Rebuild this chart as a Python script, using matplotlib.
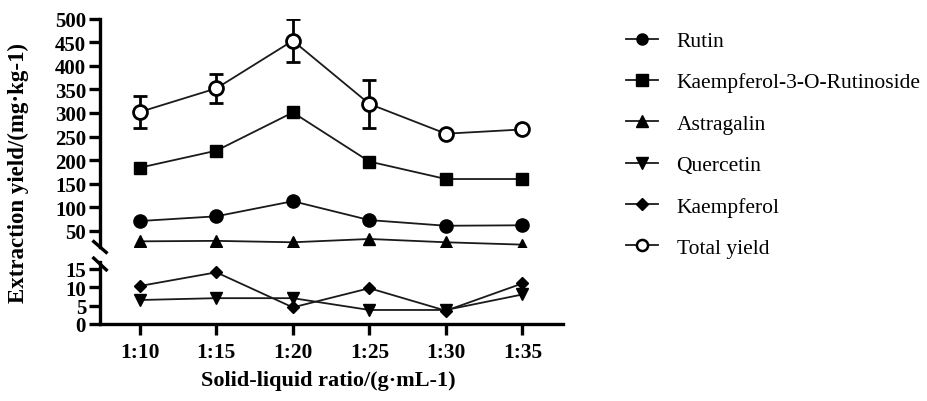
import matplotlib
matplotlib.use("Agg")
import matplotlib.pyplot as plt
from matplotlib.lines import Line2D

plt.rcParams['font.family'] = ['Liberation Serif', 'DejaVu Serif']

ratios = ['1:10', '1:15', '1:20', '1:25', '1:30', '1:35']
rutin = [71, 81, 113, 73, 61, 62]
k3or = [184, 220, 301, 197, 160, 160]
astragalin = [28, 29, 26, 33, 26, 21]
quercetin = [6.5, 7.0, 7.0, 3.8, 3.8, 8.0]
kaempferol = [10.3, 14.0, 4.5, 9.7, 3.6, 11.0]
total = [302, 352, 453, 319, 256, 265]
total_err = [34, 30, 45, 51, 0, 0]

x = list(range(len(ratios)))

W, H = 927, 402
fig = plt.figure(figsize=(W / 100, H / 100), dpi=100)

left, right = 100, 563
# pixel extents of the two y segments
up_top, up_bot = 19.5, 248
lo_top, lo_bot = 263, 325

ax_up = fig.add_axes([left / W, 1 - up_bot / H, (right - left) / W, (up_bot - up_top) / H])
ax_lo = fig.add_axes([left / W, 1 - lo_bot / H, (right - left) / W, (lo_bot - lo_top) / H])

lc = '#1a1a1a'
lw = 1.3
common = dict(color=lc, lw=lw, markeredgecolor='black', markerfacecolor='black')

ax_up.errorbar(x, total, yerr=total_err, fmt='-o', ms=10, mfc='white', mec='black', mew=2,
               color=lc, lw=lw, ecolor='black', elinewidth=2, capsize=5, capthick=2, zorder=3)
ax_up.plot(x, k3or, '-s', ms=9, **common)
ax_up.plot(x, rutin, '-o', ms=9.5, **common)
ax_up.plot(x, astragalin, '-^', ms=9, **common)

ax_lo.plot(x, quercetin, '-v', ms=9, **common)
ax_lo.plot(x, kaempferol, '-D', ms=6.5, **common)

xl = (-0.52, 5.53)
for ax in (ax_up, ax_lo):
    ax.set_xlim(*xl)
    for s in ('top', 'right'):
        ax.spines[s].set_visible(False)
    ax.spines['left'].set_linewidth(2.4)
    ax.tick_params(axis='both', width=2.4, length=8, labelsize=15, pad=2)

ax_up.set_ylim(16, 500)
ax_up.set_yticks(range(50, 501, 50))
ax_up.spines['bottom'].set_visible(False)
ax_up.tick_params(axis='x', bottom=False, labelbottom=False)

ax_lo.set_ylim(0, 16.8)
ax_lo.set_yticks([0, 5, 10, 15])
ax_lo.spines['bottom'].set_linewidth(2.4)
ax_lo.set_xticks(x)
ax_lo.set_xticklabels(ratios)
ax_lo.tick_params(axis='x', pad=5, labelsize=15.5)
for ax in (ax_up, ax_lo):
    for lab in ax.get_yticklabels() + ax.get_xticklabels():
        lab.set_fontweight('bold')

# break marks on the y axis
dx = 7.5 / (right - left)
hu = up_bot - up_top
hl = lo_bot - lo_top
kw = dict(color='black', lw=2.4, clip_on=False, solid_capstyle='butt')
ax_up.plot([-dx, dx], [6.5 / hu, -6.5 / hu], transform=ax_up.transAxes, **kw)
ax_lo.plot([-dx, dx], [1 + 5 / hl, 1 - 9 / hl], transform=ax_lo.transAxes, **kw)

fig.text(18 / W, 1 - 173 / H, 'Extraction yield/(mg\u00b7kg-1)', rotation=90,
         ha='center', va='center', fontsize=16.5, fontweight='bold')
fig.text(328 / W, 1 - 381 / H, 'Solid-liquid ratio/(g\u00b7mL-1)',
         ha='center', va='center', fontsize=16, fontweight='bold')

names = ['Rutin', 'Kaempferol-3-O-Rutinoside', 'Astragalin', 'Quercetin', 'Kaempferol', 'Total yield']
marks = ['o', 's', '^', 'v', 'D', 'o']
handles = []
for nm, mk in zip(names, marks):
    face = 'white' if nm == 'Total yield' else 'black'
    handles.append(Line2D([], [], color=lc, lw=lw, marker=mk, ms=6 if mk == 'D' else 8,
                          mfc=face, mec='black', mew=1.8 if face == 'white' else 1))
fig.legend(handles, names, loc='upper left', bbox_to_anchor=(626 / W, 1 - 32 / H),
           frameon=False, fontsize=15.5, handlelength=1.5, handletextpad=0.85,
           labelspacing=0.99, borderpad=0, borderaxespad=0)

fig.savefig('out.png', dpi=100)
